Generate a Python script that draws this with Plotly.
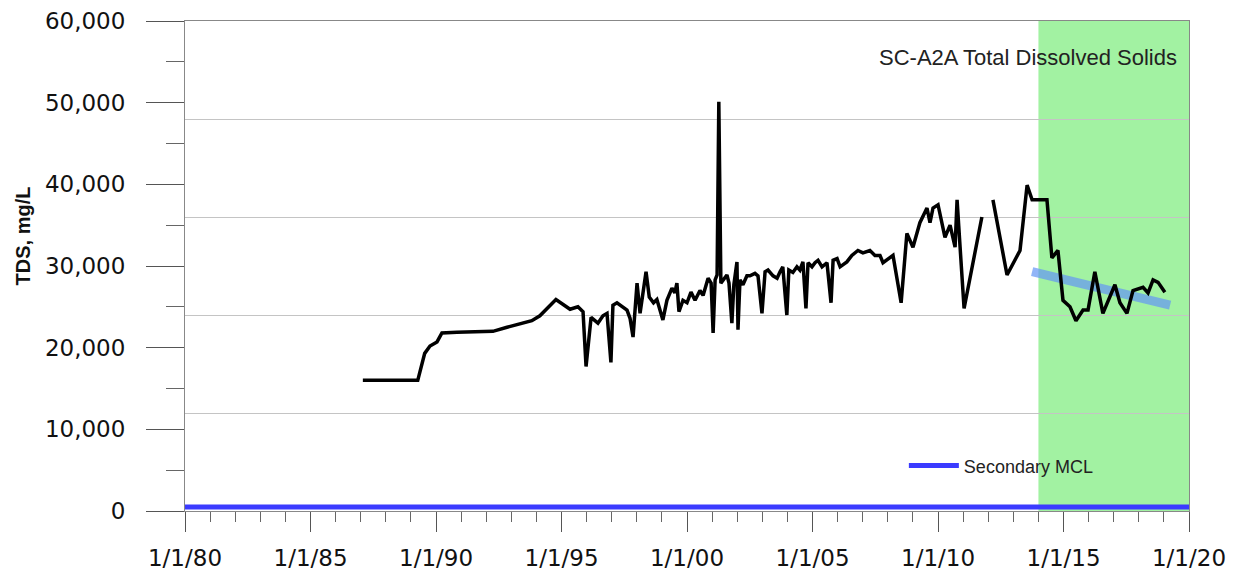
import plotly.graph_objects as go

# ---------------- data ----------------
tds_dates = [
    "1987-02-01", "1989-04-10", "1989-07-20", "1989-10-05", "1990-01-15", "1990-03-28",
    "1990-11-01", "1991-10-01", "1992-04-08", "1992-10-30", "1993-05-08", "1993-10-26",
    "1994-02-20", "1994-10-12", "1995-05-05", "1995-08-28", "1995-11-10", "1995-12-24",
    "1996-03-06", "1996-06-14", "1996-08-26", "1996-10-24", "1996-12-20", "1997-01-18",
    "1997-03-18", "1997-06-14", "1997-08-11", "1997-09-24", "1997-11-07", "1998-01-04",
    "1998-02-17", "1998-05-15", "1998-07-01", "1998-09-01", "1998-10-20", "1999-01-15",
    "1999-03-15", "1999-05-27", "1999-07-08", "1999-08-07", "1999-09-06", "1999-11-03",
    "2000-01-01", "2000-02-28", "2000-04-27", "2000-07-08", "2000-08-22", "2000-11-03",
    "2000-12-17", "2001-01-15", "2001-02-13", "2001-03-14", "2001-04-08", "2001-05-08",
    "2001-07-06", "2001-08-04", "2001-09-03", "2001-10-15", "2001-11-13", "2001-12-28",
    "2002-01-12", "2002-02-10", "2002-03-25", "2002-05-22", "2002-07-05", "2002-09-16",
    "2002-10-30", "2002-12-27", "2003-02-10", "2003-03-25", "2003-06-06", "2003-08-04",
    "2003-09-16", "2003-10-26", "2003-12-24", "2004-01-22", "2004-03-21", "2004-05-19",
    "2004-07-01", "2004-08-14", "2004-09-27", "2004-10-27", "2004-12-24", "2005-02-06",
    "2005-03-22", "2005-05-19", "2005-07-30", "2005-09-27", "2005-10-27", "2005-12-24",
    "2006-02-06", "2006-05-15", "2006-07-27", "2006-10-23", "2007-01-04", "2007-04-16",
    "2007-06-28", "2007-09-09", "2007-10-23", "2008-01-04", "2008-03-17", "2008-07-13",
    "2008-10-05", "2009-01-01", "2009-04-12", "2009-07-24", "2009-09-06", "2009-10-20",
    "2010-01-01", "2010-04-12", "2010-06-25", "2010-09-06", "2010-10-05", "2010-11-18",
    "2011-01-15", "2011-10-01", "2012-01-01", "2012-03-10", "2012-10-01", "2013-04-08",
    "2013-07-20", "2013-10-01", "2014-05-05", "2014-07-16", "2014-10-12", "2014-12-24",
    "2015-04-05", "2015-07-01", "2015-10-12", "2015-12-24", "2016-04-01", "2016-07-27",
    "2017-01-18", "2017-04-01", "2017-07-12", "2017-10-08", "2018-03-03", "2018-05-15",
    "2018-07-27", "2018-10-08", "2019-01-15",
]
tds_values = [
    16000, 16000, 19300, 20200, 20700, 21800,
    21900, 21900, 22000, 22500, 22900, 23300,
    23900, 25900, 24700, 25000, 24400, 17700,
    23700, 23000, 23900, 24200, 18200, 25200,
    25500, 25000, 24600, 23600, 21300, 27900,
    24200, 29300, 26200, 25500, 25900, 23400,
    25800, 27300, 26700, 27900, 24400, 25800,
    25500, 26800, 25800, 27000, 26400, 28500,
    27900, 21800, 28300, 28900, 50100, 27900,
    28600, 28900, 27900, 23000, 27700, 30500,
    22200, 28300, 27700, 28800, 28800, 29100,
    28800, 24200, 29300, 29500, 28800, 28500,
    29300, 29900, 24000, 29500, 29200, 29900,
    29500, 30500, 24800, 30400, 29900, 30400,
    30700, 29900, 30400, 25500, 30700, 30900,
    29900, 30500, 31300, 31900, 31600, 31900,
    31300, 31300, 30400, 30900, 31300, 25500,
    34000, 32300, 35300, 37100, 35300, 37100,
    37500, 33500, 35000, 32300, 38100, 32300,
    24800, 36000, None, 38100, 28900, 31900,
    39900, 38100, 38100, 31000, 31900, 25800,
    25000, 23300, 24600, 24600, 29300, 24200,
    27700, 25500, 24200, 27000, 27400, 26700,
    28300, 28000, 26800,
]

trend_dates = ["2013-10-01", "2019-04-01"]
trend_values = [29300, 25200]

mcl_dates = ["1980-01-01", "2020-01-01"]
mcl_values = [500, 500]

shade_period = ["2014-01-01", "2020-01-01"]

x_tick_vals = ["1980-01-01", "1985-01-01", "1990-01-01", "1995-01-01", "2000-01-01",
               "2005-01-01", "2010-01-01", "2015-01-01", "2020-01-01"]
x_tick_text = ["1/1/80", "1/1/85", "1/1/90", "1/1/95", "1/1/00",
               "1/1/05", "1/1/10", "1/1/15", "1/1/20"]
y_tick_vals = [0, 10000, 20000, 30000, 40000, 50000, 60000]
y_tick_text = ["0", "10,000", "20,000", "30,000", "40,000", "50,000", "60,000"]
y_grid_vals = [0, 12000, 24000, 36000, 48000, 60000]

# ---------------- figure ----------------
fig = go.Figure()

fig.add_trace(go.Scatter(
    x=trend_dates, y=trend_values, mode="lines",
    line=dict(color="rgba(100,150,245,0.7)", width=9),
    showlegend=False, hoverinfo="skip"))

fig.add_trace(go.Scatter(
    x=tds_dates, y=tds_values, mode="lines",
    line=dict(color="black", width=3.5), connectgaps=False,
    showlegend=False, name="TDS"))

fig.add_trace(go.Scatter(
    x=mcl_dates, y=mcl_values, mode="lines", yaxis="y2",
    line=dict(color="#3b3bff", width=5),
    name="Secondary MCL", showlegend=True))

fig.add_shape(type="rect", xref="x", yref="paper",
              x0=shade_period[0], x1=shade_period[1], y0=0, y1=1,
              fillcolor="#a2f2a2", line=dict(width=0), layer="below")

tick_font = dict(family="DejaVu Sans", size=23, color="#111")

fig.update_layout(
    width=1246, height=585,
    margin=dict(l=177, r=65, t=13, b=82, autoexpand=False),
    paper_bgcolor="white", plot_bgcolor="white",
    xaxis=dict(
        type="date", range=["1980-01-01", "2020-01-01"], automargin=False,
        tickmode="array", tickvals=x_tick_vals, ticktext=x_tick_text,
        ticks="outside", ticklen=20, tickwidth=1, tickcolor="#555",
        minor=dict(ticks="outside", ticklen=10, tickcolor="#666", dtick="M12",
                   tick0="1980-01-01", showgrid=False),
        showgrid=False, zeroline=False,
        showline=True, linecolor="#888", linewidth=1, mirror=True,
        tickfont=tick_font, ticklabelstandoff=6,
    ),
    yaxis=dict(
        range=[0, 60000], automargin=False,
        tickmode="array", tickvals=y_tick_vals, ticktext=y_tick_text,
        ticks="outside", ticklen=38, tickwidth=1, tickcolor="#555",
        minor=dict(ticks="outside", ticklen=18, tickcolor="#666", dtick=5000,
                   tick0=0, showgrid=False),
        showgrid=False, zeroline=False,
        showline=True, linecolor="#888", linewidth=1, mirror=True,
        tickfont=tick_font, ticklabelstandoff=16,
    ),
    yaxis2=dict(
        range=[0, 60000], overlaying="y", side="right", automargin=False,
        tickmode="array", tickvals=y_grid_vals,
        showticklabels=False, ticks="", showline=False, zeroline=False,
        showgrid=True, gridcolor="#c4c4c4", gridwidth=1,
    ),
    legend=dict(
        x=0.716, y=0.092, xanchor="left", yanchor="middle",
        bgcolor="rgba(0,0,0,0)", borderwidth=0,
        font=dict(family="Liberation Sans, Arial", size=18, color="#222"),
        itemwidth=50,
    ),
    annotations=[
        dict(text="SC-A2A Total Dissolved Solids", xref="paper", yref="paper",
             x=0.99, y=0.9245, xanchor="right", yanchor="middle", showarrow=False,
             font=dict(family="Liberation Sans, Arial", size=22, color="#222")),
        dict(text="<b>TDS, mg/L</b>", xref="paper", yref="paper",
             x=-0.161, y=0.561, xanchor="center", yanchor="middle", showarrow=False,
             textangle=-90,
             font=dict(family="Liberation Sans, Arial", size=20, color="#111")),
    ],
)

fig.write_html("out.html")
